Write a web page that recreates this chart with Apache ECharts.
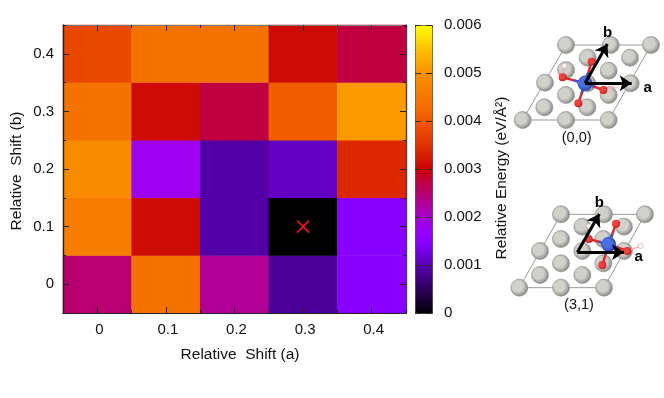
<!DOCTYPE html>
<html>
<head>
<meta charset="utf-8">
<style>html,body{margin:0;padding:0;background:#fff}#chart{width:664px;height:398px}</style>
<script src="https://cdn.jsdelivr.net/npm/echarts@6/dist/echarts.min.js"></script>
</head>
<body>
<div id="chart"></div>
<script>
const shiftA = ['0', '0.1', '0.2', '0.3', '0.4'];
const shiftB = ['0', '0.1', '0.2', '0.3', '0.4'];
// rows run from b = 0 up to b = 0.4
const energy = [
  [0.0025, 0.0044, 0.0023, 0.00085, 0.0015],
  [0.0046, 0.0031, 0.00095, 0.0000, 0.0015],
  [0.0049, 0.0018, 0.00095, 0.0011, 0.0034],
  [0.0044, 0.0031, 0.00275, 0.0041, 0.0051],
  [0.0038, 0.0044, 0.0044, 0.0031, 0.00275]
];
// one stop every 0.00025 along the colour bar
const palette = ['#000000', '#160030', '#2c0058', '#420088', '#5800b0', '#7000e0', '#8800ff', '#9c00f8',
  '#a400d0', '#ae00a0', '#b80070', '#c00040', '#c80008', '#d61c00', '#e03000', '#e84400', '#ee5800',
  '#f26800', '#f57800', '#f88400', '#fa9000', '#fca800', '#ffc000', '#ffe000', '#ffff00'];
const minimum = ['0.3', '0.1'];

// structure panels, positions in the panel's own axis units
const cell00 = [[38, 300], [296, 300], [423, 75], [168, 75], [38, 300]];
const slab00 = [[168, 75], [302, 75], [423, 75], [233, 113], [360, 113], [296, 152], [168, 150], [105, 188],
  [232, 190], [362, 190], [168, 225], [296, 225], [103, 262], [232, 262], [38, 300], [168, 300], [296, 300]];
const metal00 = [[225, 190]];
const oxygen00 = [[158, 172], [245, 125], [205, 250], [280, 210]];
const hydrogen00 = [[163, 137], [318, 197]];
const hydroxyl00 = [[[158, 172], [163, 137]], [[280, 210], [318, 197]]];
const arrows00 = [[[225, 190], [365, 190]], [[225, 190], [292, 72]]];

const cell31 = [[58, 293], [312, 293], [435, 73], [183, 73], [58, 293]];
const slab31 = [[183, 73], [312, 73], [435, 73], [247, 110], [372, 110], [183, 147], [310, 147], [120, 183],
  [247, 183], [372, 183], [183, 220], [310, 220], [120, 255], [247, 255], [58, 293], [183, 293], [312, 293]];
const metal31 = [[326, 163]];
const oxygen31 = [[266, 147], [348, 101], [307, 225], [382, 183]];
const hydrogen31 = [[266, 108], [422, 168]];
const hydroxyl31 = [[[266, 147], [266, 108]], [[382, 183], [422, 168]]];
const arrows31 = [[[232, 187], [372, 187]], [[232, 187], [298, 72]]];

const font = 'Liberation Sans, Arial, sans-serif';
const heatData = [];
energy.forEach((row, b) => row.forEach((v, a) => heatData.push([a, b, v])));

function frameAxis(type, position, categories, aligned, len, lineColor, extra) {
  return Object.assign({
    type: type, gridIndex: 0, position: position, data: categories, z: 5,
    axisLine: { show: true, lineStyle: { color: lineColor, width: 1.2 } },
    axisTick: { show: true, inside: true, length: len, alignWithLabel: aligned, lineStyle: { color: '#222', width: 1 } },
    axisLabel: { show: false }, splitLine: { show: false }
  }, extra || {});
}
const tickLabel = { show: true, color: '#111', fontSize: 15, fontFamily: font, margin: 9 };
const axisName = { color: '#111', fontSize: 15.5, fontFamily: font };

const xAxes = [
  frameAxis('category', 'bottom', shiftA, true, 6, '#222', {
    axisLabel: Object.assign({}, tickLabel, { padding: [0, 0, 0, 4] }),
    name: 'Relative  Shift (a)', nameLocation: 'middle', nameGap: 34, nameMoveOverlap: false,
    nameTextStyle: Object.assign({}, axisName, { padding: [0, 0, 0, 11] }) }),
  frameAxis('category', 'bottom', shiftA, false, 3, '#222'),
  frameAxis('category', 'top', shiftA, true, 6, '#777'),
  frameAxis('category', 'top', shiftA, false, 3, '#777'),
  { type: 'value', gridIndex: 1, min: 0, max: 1, show: false },
  { type: 'value', gridIndex: 2, min: 0, max: 450, show: false },
  { type: 'value', gridIndex: 3, min: 0, max: 480, show: false }
];
const yAxes = [
  frameAxis('category', 'left', shiftB, true, 6, '#222', {
    axisLabel: Object.assign({}, tickLabel, { padding: [3, 0, 0, 0] }),
    name: 'Relative  Shift (b)', nameLocation: 'middle', nameGap: 38, nameRotate: 90, nameMoveOverlap: false,
    nameTextStyle: Object.assign({}, axisName, { padding: [0, 4, 0, 0] }) }),
  frameAxis('category', 'left', shiftB, false, 3, '#222'),
  frameAxis('category', 'right', shiftB, true, 6, '#444'),
  frameAxis('category', 'right', shiftB, false, 3, '#444'),
  {
    type: 'value', gridIndex: 1, position: 'right', min: 0, max: 0.006, interval: 0.001, z: 6,
    axisLine: { show: false }, axisTick: { show: false },
    axisLabel: { color: '#111', fontSize: 15, fontFamily: font, margin: 12, padding: [2, 0, 0, 0],
      formatter: v => v === 0 ? '0' : v.toFixed(3) },
    splitLine: { show: true, lineStyle: { color: '#3a2a20', width: 1, type: [6, 5] } },
    name: 'Relative Energy (eV/Å²)', nameLocation: 'middle', nameGap: 62, nameRotate: 90, nameMoveOverlap: false,
    nameTextStyle: Object.assign({}, axisName, { padding: [0, 18, 0, 0] })
  },
  { type: 'value', gridIndex: 2, min: 0, max: 420, inverse: true, show: false },
  { type: 'value', gridIndex: 3, min: 0, max: 390, inverse: true, show: false }
];

function atoms(points, axis, size, color, border, z) {
  return {
    type: 'scatter', xAxisIndex: axis, yAxisIndex: axis, data: points, symbolSize: size, z: z, silent: true,
    itemStyle: { color: color, borderColor: border, borderWidth: border ? 0.6 : 0, opacity: 1 }
  };
}
function ballGradient(inner, outer) {
  return new echarts.graphic.RadialGradient(0.42, 0.42, 0.6, [
    { offset: 0, color: inner }, { offset: 0.5, color: inner }, { offset: 1, color: outer }]);
}
function bonds(segments, axis, color, width, z) {
  return {
    type: 'lines', coordinateSystem: 'cartesian2d', xAxisIndex: axis, yAxisIndex: axis, z: z, silent: true,
    data: segments.map(s => ({ coords: s })),
    lineStyle: { color: color, width: width, opacity: 1 }
  };
}
function panel(axis, cell, slab, metal, oxygen, hydrogen, hydroxyl, arrows, labels) {
  const m = metal[0];
  const outer = oxygen.map(o => [m, o]);
  const inner = oxygen.map(o => [m, [(o[0] + m[0]) / 2, (o[1] + m[1]) / 2]]);
  return [
    {
      type: 'line', xAxisIndex: axis, yAxisIndex: axis, data: cell, symbol: 'none', silent: true, z: 3,
      lineStyle: { color: '#999', width: 1 }
    },
    atoms(slab, axis, 17, ballGradient('#d2d0ca', '#85837e'), '#8a8884', 4),
    bonds(outer, axis, '#e0262c', 2.5, 5),
    bonds(inner, axis, '#3a55c8', 2.5, 5),
    bonds(hydroxyl, axis, '#e8b4b4', 1.5, 5),
    atoms(hydrogen, axis, 5, '#fff', '#d89090', 6),
    atoms(oxygen, axis, 8, ballGradient('#f04040', '#c01818'), null, 7),
    atoms(metal, axis, 15, ballGradient('#4a70e0', '#2a3fa8'), null, 8),
    {
      type: 'lines', coordinateSystem: 'cartesian2d', xAxisIndex: axis, yAxisIndex: axis, z: 9, silent: true,
      symbol: ['none', 'arrow'], symbolSize: 12,
      data: arrows.map(a => ({ coords: a })),
      lineStyle: { color: '#000', width: 3, opacity: 1, curveness: 0 }
    },
    {
      type: 'scatter', xAxisIndex: axis, yAxisIndex: axis, symbolSize: 0, z: 10, silent: true,
      itemStyle: { opacity: 1 },
      data: labels.map(l => ({
        value: l.at,
        label: { show: true, position: 'inside', formatter: l.text, color: l.bold ? '#000' : '#111', fontFamily: font,
          fontSize: l.bold ? 15 : 14.5, fontWeight: l.bold ? 'bold' : 'normal' }
      }))
    }
  ];
}

const chart = echarts.init(document.getElementById('chart'), null, { renderer: 'canvas' });
chart.setOption({
  animation: false,
  backgroundColor: '#fff',
  grid: [
    { left: 63, top: 25, width: 343, height: 288, outerBoundsMode: 'none' },
    { left: 415, top: 25, width: 17, height: 288, outerBoundsMode: 'none' },
    { left: 510, top: 20, width: 150, height: 140, outerBoundsMode: 'none' },
    { left: 500, top: 190, width: 160, height: 130, outerBoundsMode: 'none' }
  ],
  xAxis: xAxes,
  yAxis: yAxes,
  visualMap: {
    type: 'continuous', seriesIndex: 0, min: 0, max: 0.006, left: 415, top: 25, itemWidth: 17, itemHeight: 288,
    padding: 0, text: ['', ''], showLabel: false, calculable: false, realtime: false, z: 1,
    borderColor: '#333', borderWidth: 1,
    inRange: { color: palette }
  },
  series: [
    {
      type: 'heatmap', xAxisIndex: 0, yAxisIndex: 0, data: heatData, z: 2, silent: true,
      itemStyle: { borderWidth: 0 }, emphasis: { disabled: true }
    },
    {
      type: 'scatter', xAxisIndex: 0, yAxisIndex: 0, data: [minimum], z: 4, silent: true,
      symbol: 'path://M0 0L10 10M10 0L0 10', symbolSize: 12,
      itemStyle: { color: 'none', borderColor: '#ff1020', borderWidth: 1.5, opacity: 1 }
    }
  ].concat(
    panel(5, cell00, slab00, metal00, oxygen00, hydrogen00, hydroxyl00, arrows00, [
      { at: [293, 38], text: 'b', bold: true }, { at: [413, 204], text: 'a', bold: true }, { at: [200, 355], text: '(0,0)' }
    ]),
    panel(6, cell31, slab31, metal31, oxygen31, hydrogen31, hydroxyl31, arrows31, [
      { at: [298, 38], text: 'b', bold: true }, { at: [416, 200], text: 'a', bold: true }, { at: [237, 345], text: '(3,1)' }
    ])
  )
});
</script>
</body>
</html>
